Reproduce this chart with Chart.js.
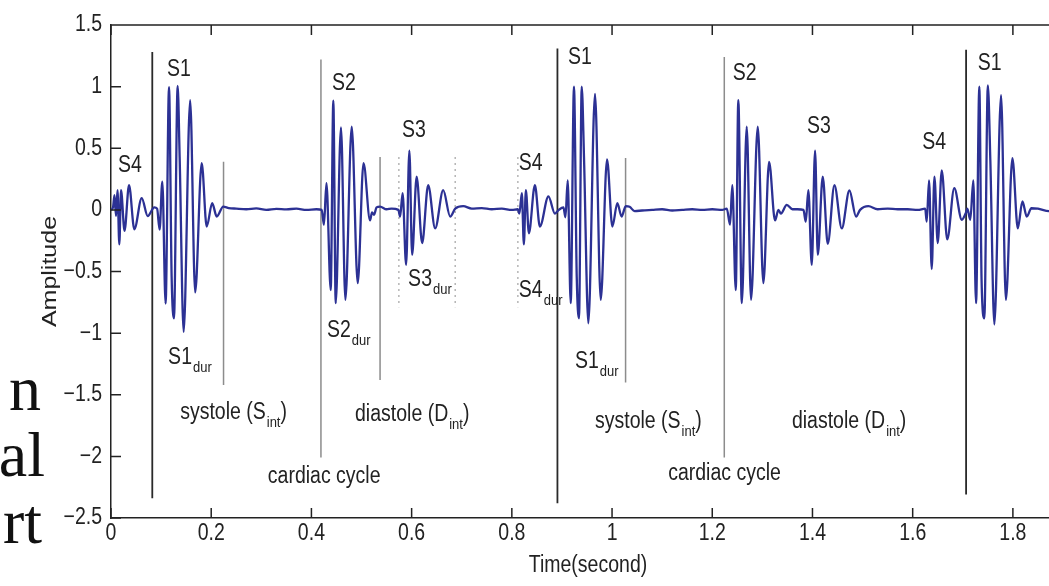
<!DOCTYPE html>
<html>
<head>
<meta charset="utf-8">
<script src="https://cdn.jsdelivr.net/npm/chart.js@4.4.0/dist/chart.umd.min.js"></script>
<style>
  html, body { margin: 0; padding: 0; background: #fff; overflow: hidden; width: 1049px; height: 586px; }
  canvas { display: block; }
</style>
</head>
<body>
<canvas id="pcg" width="1066" height="586"></canvas>
<script>
// PCG trace: S4 / S1 / S2 / S3 bursts over a bit more than two cardiac cycles
const times = [
  0.000, 0.004, 0.007, 0.010, 0.013, 0.0166, 0.020, 0.027, 0.036, 0.0466, 0.0613, 0.0732, 0.0865,
  0.092, 0.097, 0.1024, 0.109, 0.1158, 0.121, 0.1257, 0.133, 0.137, 0.145, 0.158, 0.168, 0.181,
  0.191, 0.202, 0.211, 0.224, 0.235, 0.250, 0.270, 0.290, 0.310, 0.330, 0.350, 0.370, 0.390, 0.410,
  0.4205, 0.425, 0.430, 0.4385, 0.4437, 0.4485, 0.459, 0.4678, 0.4804, 0.4924, 0.504, 0.517, 0.521,
  0.525, 0.530, 0.537, 0.550, 0.560, 0.5735, 0.577, 0.582, 0.589, 0.5955, 0.601, 0.610, 0.621, 0.633,
  0.647, 0.663, 0.677, 0.687, 0.703, 0.720, 0.740, 0.760, 0.780, 0.800, 0.812, 0.815, 0.820, 0.824,
  0.828, 0.834, 0.846, 0.856, 0.873, 0.886, 0.8937, 0.903, 0.907, 0.9115, 0.9175, 0.924, 0.9295,
  0.934, 0.9395, 0.944, 0.9527, 0.966, 0.9774, 0.990, 1.0006, 1.0106, 1.019, 1.0273, 1.035, 1.045,
  1.060, 1.080, 1.100, 1.120, 1.140, 1.160, 1.180, 1.200, 1.220, 1.229, 1.2355, 1.240, 1.2469, 1.252,
  1.259, 1.2688, 1.2774, 1.2908, 1.302, 1.3134, 1.3253, 1.332, 1.337, 1.3487, 1.360, 1.370, 1.382,
  1.3866, 1.3918, 1.3986, 1.4052, 1.4106, 1.4205, 1.4305, 1.4438, 1.4585, 1.4737, 1.487, 1.495,
  1.5116, 1.530, 1.550, 1.570, 1.590, 1.610, 1.625, 1.628, 1.6327, 1.638, 1.6434, 1.650, 1.658,
  1.669, 1.683, 1.698, 1.7066, 1.709, 1.715, 1.721, 1.7265, 1.733, 1.7375, 1.743, 1.750, 1.755,
  1.763, 1.7764, 1.786, 1.799, 1.8098, 1.819, 1.8277, 1.837, 1.850, 1.872, 1.890, 1.904
];
const amps = [
  0.00, 0.02, 0.12, -0.05, 0.16, -0.28, 0.16, -0.17, 0.20, -0.157, 0.095, -0.05, 0.02,
  0.01, -0.16, 0.23, -0.76, 0.995, -0.54, -0.88, 1.005, 0.43, -0.99, 0.89, -0.67, 0.38,
  -0.135, 0.054, -0.054, 0.027, 0.015, 0.010, 0.005, 0.012, 0.000, 0.008, 0.004, 0.010, 0.000, 0.005,
  0.000, -0.12, 0.216, -0.65, 0.886, -0.757, 0.67, -0.73, 0.676, -0.595, 0.38, -0.086, -0.02,
  -0.04, 0.02, 0.027, 0.005, 0.010, 0.000, -0.054, 0.135, -0.446, 0.48, -0.365, 0.27, -0.27, 0.20,
  -0.15, 0.16, -0.054, 0.01, 0.03, 0.010, 0.015, 0.005, 0.010, 0.000, 0.005, -0.03, 0.135, -0.28,
  0.16, -0.19, 0.20, -0.135, 0.11, -0.03, 0.00, 0.02, -0.06, 0.24, -0.757, 1.00, -0.54,
  -0.88, 1.00, 0.43, -0.92, 0.94, -0.73, 0.41, -0.135, 0.054, -0.054, 0.03, 0.025, -0.01,
  -0.005, 0.000, 0.005, -0.005, 0.000, 0.005, 0.000, 0.005, 0.000, 0.010, -0.12, 0.20, -0.65, 0.89,
  -0.757, 0.676, -0.73, 0.676, -0.595, 0.39, -0.086, 0.00, -0.03, 0.04, 0.005, 0.005, 0.000,
  -0.095, 0.16, -0.446, 0.48, -0.365, 0.27, -0.276, 0.20, -0.15, 0.157, -0.054, 0.00,
  0.03, 0.005, 0.010, 0.005, 0.005, 0.000, 0.010, -0.095, 0.24, -0.48, 0.27, -0.27, 0.32,
  -0.24, 0.176, -0.08, -0.02, 0.01, -0.08, 0.24, -0.757, 1.00, -0.57, -0.88, 1.01, 0.40,
  -0.93, 0.93, -0.73, 0.42, -0.15, 0.068, -0.054, 0.013, 0.010, -0.010, 0.000, 0.000
];

const xTicks = [0, 0.2, 0.4, 0.6, 0.8, 1, 1.2, 1.4, 1.6, 1.8];
const yTicks = [-2.5, -2, -1.5, -1, -0.5, 0, 0.5, 1, 1.5];
const xTitle = 'Time(second)';
const yTitle = 'Amplitude';

// segment markers (time, top, bottom)
const cycleT = [0.0824, 0.891, 1.7066];
const cycleTop = [1.28, 1.31, 1.30];
const cycleBottom = [-2.34, -2.38, -2.31];

const splitT = [0.419, 1.224];
const splitTop = [1.22, 1.24];
const splitBottom = [-2.01, -2.01];

const soundEndT = [0.2246, 0.537, 1.027];
const soundEndTop = [0.39, 0.43, 0.42];
const soundEndBottom = [-1.42, -1.38, -1.40];

const durT = [0.5745, 0.687, 0.812];
const durTop = [0.43, 0.43, 0.43];
const durBottom = [-0.79, -0.79, -0.79];

// text labels, anchored at left/baseline in data units
const labels = [
  { text: 'S4', t: 0.014, v: 0.31 },
  { text: 'S1', t: 0.112, v: 1.09 },
  { text: 'S1', sub: 'dur', t: 0.114, v: -1.25 },
  { text: 'systole (S', sub: 'int', tail: ')', t: 0.138, v: -1.70 },
  { text: 'cardiac cycle', t: 0.313, v: -2.22 },
  { text: 'S2', t: 0.441, v: 0.97 },
  { text: 'S2', sub: 'dur', t: 0.431, v: -1.03 },
  { text: 'S3', t: 0.581, v: 0.59 },
  { text: 'S3', sub: 'dur', t: 0.593, v: -0.62 },
  { text: 'diastole (D', sub: 'int', tail: ')', t: 0.487, v: -1.71 },
  { text: 'S4', t: 0.814, v: 0.32 },
  { text: 'S4', sub: 'dur', t: 0.814, v: -0.71 },
  { text: 'S1', t: 0.912, v: 1.18 },
  { text: 'S1', sub: 'dur', t: 0.926, v: -1.28 },
  { text: 'systole (S', sub: 'int', tail: ')', t: 0.966, v: -1.77 },
  { text: 'cardiac cycle', t: 1.112, v: -2.19 },
  { text: 'S2', t: 1.241, v: 1.05 },
  { text: 'S3', t: 1.389, v: 0.62 },
  { text: 'diastole (D', sub: 'int', tail: ')', t: 1.359, v: -1.77 },
  { text: 'S4', t: 1.619, v: 0.49 },
  { text: 'S1', t: 1.730, v: 1.135 }
];

const SANS = '"Liberation Sans", Arial, Helvetica, sans-serif';
const INK = '#222';
const STRETCH = 1.19; // figure text is taller than it is wide

// draw text with the vertical stretch, returns its advance width
function say(ctx, str, x, y, size, align, base) {
  ctx.save();
  ctx.translate(x, y);
  ctx.scale(1, STRETCH);
  ctx.font = size + 'px ' + SANS;
  ctx.textAlign = align || 'left';
  ctx.textBaseline = base || 'alphabetic';
  ctx.fillText(str, 0, 0);
  const w = ctx.measureText(str).width;
  ctx.restore();
  return w;
}

function vlines(ts, tops, bottoms, color, width, dash) {
  return ts.map((t, i) => ({
    data: [{ x: t, y: tops[i] }, { x: t, y: bottoms[i] }],
    borderColor: color,
    borderWidth: width,
    borderDash: dash || [],
    pointRadius: 0,
    order: 2
  }));
}

const trace = times.map((t, i) => ({ x: t, y: amps[i] }));

const datasets = [
  {
    data: trace,
    borderColor: '#2c3194',
    borderWidth: 2.3,
    pointRadius: 0,
    cubicInterpolationMode: 'monotone',
    order: 1
  },
  ...vlines(cycleT, cycleTop, cycleBottom, '#2a2a2a', 1.8),
  ...vlines(splitT, splitTop, splitBottom, '#8c8c8c', 1.5),
  ...vlines(soundEndT, soundEndTop, soundEndBottom, '#8c8c8c', 1.5),
  ...vlines(durT, durTop, durBottom, '#b5b5b5', 1.5, [2, 4])
];

// box top edge, inward ticks, tick labels and axis titles
const frame = {
  id: 'frame',
  afterDraw(chart) {
    const { ctx, chartArea: a, scales: { x, y } } = chart;
    ctx.save();
    ctx.strokeStyle = INK;
    ctx.lineWidth = 1.5;
    ctx.beginPath();
    ctx.moveTo(a.left, a.top);
    ctx.lineTo(a.right, a.top);
    xTicks.forEach(t => {
      const px = x.getPixelForValue(t);
      ctx.moveTo(px, a.bottom); ctx.lineTo(px, a.bottom - 10);
      ctx.moveTo(px, a.top); ctx.lineTo(px, a.top + 10);
    });
    yTicks.forEach(v => {
      const py = y.getPixelForValue(v);
      ctx.moveTo(a.left, py); ctx.lineTo(a.left + 10, py);
    });
    ctx.stroke();

    ctx.fillStyle = INK;
    xTicks.forEach(t => {
      say(ctx, String(t), x.getPixelForValue(t), a.bottom + 16, 19.5, 'center', 'middle');
    });
    yTicks.forEach(v => {
      say(ctx, String(v).replace('-', '\u2212'), a.left - 9, y.getPixelForValue(v), 19.5, 'right', 'middle');
    });
    say(ctx, xTitle, (a.left + a.right) / 2, 566, 19.5, 'center', 'middle');

    ctx.save();
    ctx.translate(50, (a.top + a.bottom) / 2);
    ctx.scale(1, STRETCH);
    ctx.rotate(-Math.PI / 2);
    ctx.font = '21px ' + SANS;
    ctx.textAlign = 'center';
    ctx.textBaseline = 'middle';
    ctx.fillText(yTitle, 0, 0);
    ctx.restore();
    ctx.restore();
  }
};

const notes = {
  id: 'notes',
  afterDatasetsDraw(chart) {
    const { ctx, scales: { x, y } } = chart;
    ctx.save();
    ctx.fillStyle = INK;
    labels.forEach(l => {
      let px = x.getPixelForValue(l.t);
      const py = y.getPixelForValue(l.v);
      px += say(ctx, l.text, px, py, 19.5);
      if (l.sub) {
        px += say(ctx, l.sub, px + 1, py + 8, 13) + 1;
      }
      if (l.tail) {
        say(ctx, l.tail, px, py, 19.5);
      }
    });

    // leftover slide text at the far left
    ctx.font = '64px "Liberation Serif", "Times New Roman", serif';
    ctx.fillStyle = '#111';
    ctx.textAlign = 'right';
    ctx.fillText('n', 41, 410);
    ctx.fillText('al', 45, 476);
    ctx.fillText('rt', 42, 543);
    ctx.restore();
  }
};

new Chart(document.getElementById('pcg'), {
  type: 'line',
  data: { datasets },
  options: {
    responsive: false,
    devicePixelRatio: 1,
    animation: false,
    layout: { padding: { top: 25, right: 1, left: 0, bottom: 0 } },
    plugins: { legend: { display: false }, tooltip: { enabled: false } },
    scales: {
      x: {
        type: 'linear',
        min: 0,
        max: 1.904,
        afterFit: s => { s.height = 68; },
        afterBuildTicks: s => { s.ticks = xTicks.map(v => ({ value: v })); },
        grid: { display: false, drawTicks: false },
        border: { display: true, color: INK, width: 1.5 },
        ticks: { display: false }
      },
      y: {
        type: 'linear',
        min: -2.5,
        max: 1.5,
        afterFit: s => { s.width = 111; },
        afterBuildTicks: s => { s.ticks = yTicks.map(v => ({ value: v })); },
        grid: { display: false, drawTicks: false },
        border: { display: true, color: INK, width: 1.5 },
        ticks: { display: false }
      }
    }
  },
  plugins: [frame, notes]
});
</script>
</body>
</html>
